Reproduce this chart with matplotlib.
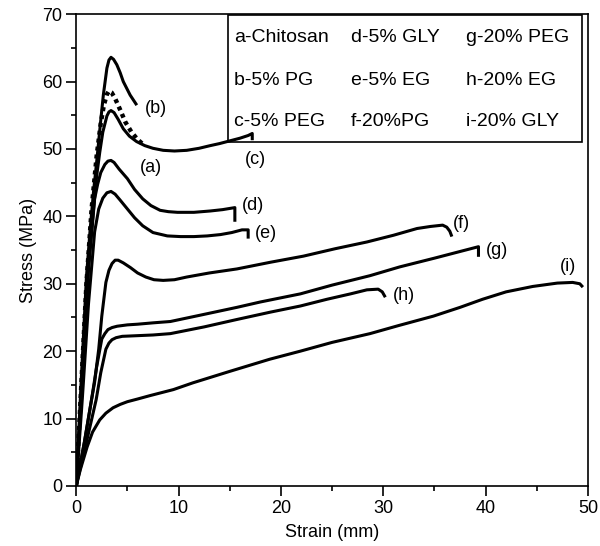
import matplotlib
matplotlib.use("Agg")
import matplotlib.pyplot as plt
from matplotlib.patches import Rectangle

plt.rcParams['font.family'] = ['Liberation Sans', 'DejaVu Sans']

# stress-strain curves (strain mm, stress MPa)
a_x = [0, 0.5, 1.0, 1.5, 2.0, 2.4, 2.7, 3.0, 3.2, 3.45, 3.8, 4.3, 4.8, 5.4,
       6.0, 6.6]
a_y = [0, 15, 30, 41, 49, 53.8, 56.5, 58.1, 58.6, 58.4, 57.5, 55.8, 54.0,
       52.5, 51.4, 50.6]

b_x = [0, 0.5, 1.0, 1.37, 1.7, 2.0, 2.35, 2.65, 3.0, 3.2, 3.4, 3.65, 3.97,
       4.3, 4.6, 5.27, 5.92]
b_y = [0, 16, 31, 38.2, 43.8, 48.1, 53.5, 58.0, 62.0, 63.2, 63.6, 63.3, 62.5,
       61.3, 60.0, 58.0, 56.5]

c_x = [0, 0.5, 1.2, 2.0, 2.3, 2.6, 3.0, 3.2, 3.4, 3.7, 4.1, 4.6, 5.2, 5.9,
       6.7, 7.5, 8.5, 9.6, 10.8, 12.0, 13.1, 14.0, 15.0, 16.0, 16.8, 17.2, 17.2]
c_y = [0, 14, 33, 46, 49.5, 52.5, 54.9, 55.5, 55.7, 55.4, 54.4, 53.0, 51.9,
       51.1, 50.5, 50.1, 49.8, 49.7, 49.8, 50.1, 50.5, 50.8, 51.2, 51.6, 52.0,
       52.3, 51.3]

d_x = [0, 0.6, 1.2, 1.8, 2.1, 2.4, 2.8, 3.1, 3.4, 3.7, 4.2, 5.0, 5.7, 6.5,
       7.3, 8.2, 9.0, 9.9, 11.5, 13.1, 14.3, 15.5, 15.5]
d_y = [0, 16, 32, 42.6, 44.8, 46.5, 47.7, 48.2, 48.3, 48.0, 47.0, 45.6, 44.0,
       42.6, 41.6, 40.9, 40.7, 40.6, 40.6, 40.8, 41.0, 41.3, 39.2]

e_x = [0, 0.6, 1.2, 1.8, 2.2, 2.6, 3.0, 3.4, 3.8, 4.3, 5.0, 5.7, 6.5, 7.5,
       8.9, 10.2, 11.5, 12.8, 14.1, 15.2, 16.2, 16.8, 16.8]
e_y = [0, 13, 27, 37.7, 41.1, 42.7, 43.5, 43.7, 43.3, 42.4, 41.1, 39.8, 38.6,
       37.6, 37.1, 37.0, 37.0, 37.1, 37.3, 37.6, 38.0, 38.0, 36.7]

f_x = [0, 0.8, 1.5, 1.8, 2.2, 2.5, 2.9, 3.2, 3.5, 3.8, 4.1, 4.6, 5.3, 6.0,
       6.8, 7.6, 8.5, 9.6, 10.8, 13.0, 15.7, 19.0, 22.2, 25.3, 28.4, 31.0,
       33.3, 34.6, 35.8, 36.2, 36.5, 36.7]
f_y = [0, 6.5, 12.8, 15.4, 20.3, 25.2, 30.2, 32.0, 33.0, 33.5, 33.5, 33.1,
       32.4, 31.6, 31.0, 30.6, 30.5, 30.6, 31.0, 31.6, 32.2, 33.2, 34.1, 35.2,
       36.2, 37.2, 38.2, 38.5, 38.7, 38.4, 37.8, 37.0]

g_x = [0, 0.8, 1.55, 2.0, 2.5, 2.8, 3.1, 3.5, 4.0, 5.0, 6.0, 7.5, 9.2, 12.0,
       15.7, 18.0, 21.9, 25.0, 28.7, 31.6, 35.0, 39.3, 39.3]
g_y = [0, 6.5, 13.3, 17.7, 21.8, 22.6, 23.2, 23.5, 23.7, 23.9, 24.0, 24.2,
       24.4, 25.3, 26.5, 27.3, 28.5, 29.8, 31.2, 32.5, 33.8, 35.5, 34.0]

h_x = [0, 1.0, 1.95, 2.4, 2.9, 3.2, 3.5, 3.9, 4.5, 6.0, 7.5, 9.2, 12.5,
       15.7, 19.0, 21.9, 24.5, 26.8, 28.4, 29.5, 29.9, 30.2]
h_y = [0, 6.5, 12.8, 16.8, 20.3, 21.2, 21.7, 22.0, 22.2, 22.3, 22.4, 22.6,
       23.6, 24.7, 25.8, 26.7, 27.7, 28.5, 29.1, 29.2, 28.8, 28.0]

i_x = [0, 0.4, 1.07, 1.6, 2.3, 2.9, 3.6, 4.3, 5.0, 6.0, 7.2, 9.5, 11.4, 15.0,
       18.9, 21.9, 25.0, 28.7, 31.5, 34.9, 37.5, 39.7, 42.0, 44.6, 47.0, 48.5,
       49.2, 49.5]
i_y = [0, 2.4, 5.8, 8.0, 9.8, 10.8, 11.6, 12.1, 12.5, 12.9, 13.4, 14.3, 15.3,
       17.0, 18.8, 20.0, 21.3, 22.6, 23.8, 25.2, 26.5, 27.7, 28.8, 29.6, 30.1,
       30.2, 30.0, 29.5]

legend_rows = [["a-Chitosan", "d-5% GLY", "g-20% PEG"],
               ["b-5% PG", "e-5% EG", "h-20% EG"],
               ["c-5% PEG", "f-20%PG", "i-20% GLY"]]

fig = plt.figure(figsize=(6, 5.46), dpi=100)
ax = fig.add_axes([0.127, 0.11, 0.853, 0.864])

lw = 2.2
for xs, ys in [(b_x, b_y), (c_x, c_y), (d_x, d_y), (e_x, e_y), (f_x, f_y),
               (g_x, g_y), (h_x, h_y), (i_x, i_y)]:
    ax.plot(xs, ys, color='black', lw=lw, solid_capstyle='butt',
            solid_joinstyle='round')
ax.plot(a_x, a_y, color='black', lw=3.2, linestyle=(0, (0.9, 0.9)))

# curve tags
tags = [("(b)", 6.7, 56.0), ("(a)", 6.25, 47.3), ("(c)", 16.5, 48.4),
        ("(d)", 16.2, 41.6), ("(e)", 17.5, 37.4), ("(f)", 36.8, 39.0),
        ("(g)", 40.0, 34.9), ("(h)", 30.9, 28.2), ("(i)", 47.3, 32.5)]
for t, tx, ty in tags:
    ax.text(tx, ty, t, fontsize=13, ha='left', va='center')

# legend box
ax.add_patch(Rectangle((14.8, 51.1), 34.6, 18.8, fill=False, lw=1.2,
                       edgecolor='black', zorder=3))
col_x = [15.4, 26.8, 38.1]
row_y = [66.5, 60.1, 54.1]
for r, row in enumerate(legend_rows):
    for c, label in enumerate(row):
        ax.text(col_x[c], row_y[r], label, fontsize=14, ha='left', va='center')

ax.set_xlim(0, 50)
ax.set_ylim(0, 70)
ax.set_xticks(range(0, 51, 10))
ax.set_xticks(range(5, 50, 10), minor=True)
ax.set_yticks(range(0, 71, 10))
ax.set_yticks(range(5, 70, 10), minor=True)
ax.tick_params(which='major', direction='out', length=7, width=1.2,
               labelsize=13, pad=3)
ax.tick_params(which='minor', direction='out', length=3.8, width=1.2)
for s in ax.spines.values():
    s.set_linewidth(1.2)
ax.set_xlabel("Strain (mm)", fontsize=13, labelpad=5)
ax.set_ylabel("Stress (MPa)", fontsize=13, labelpad=4)

fig.savefig("out.png", dpi=100)
